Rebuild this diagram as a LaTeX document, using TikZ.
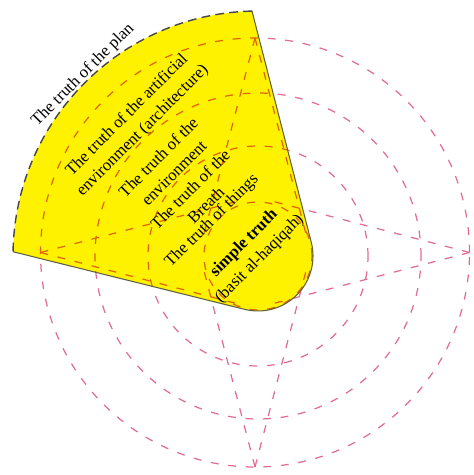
\documentclass[tikz,border=0pt]{standalone}
\usepackage{fontspec}
\setmainfont{Liberation Serif}
\definecolor{ringpink}{RGB}{224,108,150}
\definecolor{edgeolive}{RGB}{95,95,60}
\definecolor{plangray}{RGB}{70,70,70}

\begin{document}
\begin{tikzpicture}[
  ring/.style={draw=ringpink, line width=0.7pt, dash pattern=on 4.5pt off 5.5pt},
  edge/.style={draw=edgeolive, line width=0.6pt},
  planarc/.style={draw=plangray, line width=0.8pt, dash pattern=on 5pt off 3pt},
  truth/.style={font=\fontsize{9.5}{12.5}\selectfont, align=center, rotate=45, inner sep=1pt}
]
\useasboundingbox (-5.16,-4.38) rectangle (4.32,5.12);

% dashed rings round the centre
\foreach \r in {1.08,2.2,3.26}
  \draw[ring] (0,0) circle[radius=\r];

% outer ring and its tangents from the four outer points
\begin{scope}[shift={(-0.06,0.07)}]
  \draw[ring] (0,0) circle[radius=4.29];
  \foreach \a in {0,90,180,270}{
    \draw[ring] (\a:4.29) -- ({\a+75.4}:1.08);
    \draw[ring] (\a:4.29) -- ({\a-75.4}:1.08);
  }
\end{scope}

% yellow quarter
\begin{scope}[blend mode=multiply]
  \fill[yellow] (91.4:4.9) arc[start angle=91.4, end angle=179, radius=4.9]
    -- (256:1.1) arc[start angle=256, end angle=374.4, radius=1.1] -- cycle;
\end{scope}
\draw[edge] (179:4.9) -- (256:1.1) arc[start angle=256, end angle=374.4, radius=1.1] -- (91.4:4.9);
\draw[planarc] (91.4:4.9) arc[start angle=91.4, end angle=179, radius=4.9];

% labels
\node[truth] (plan) at (-3.5,3.62) {The truth of the plan};
\node[truth] (artificial) at (-2.46,2.66) {The truth of the artificial\\environment (architecture)};
\node[truth] (environment) at (-1.84,1.82) {The truth of the\\environment};
\node[truth] (breath) at (-1.2,1.18) {The truth of the\\Breath};
\node[truth] (things) at (-0.92,0.7) {The truth of things};
\node[truth] (simple) at (-0.12,0.1) {\textbf{simple truth}\\(basit al-haqiqah)};

\end{tikzpicture}
\end{document}
